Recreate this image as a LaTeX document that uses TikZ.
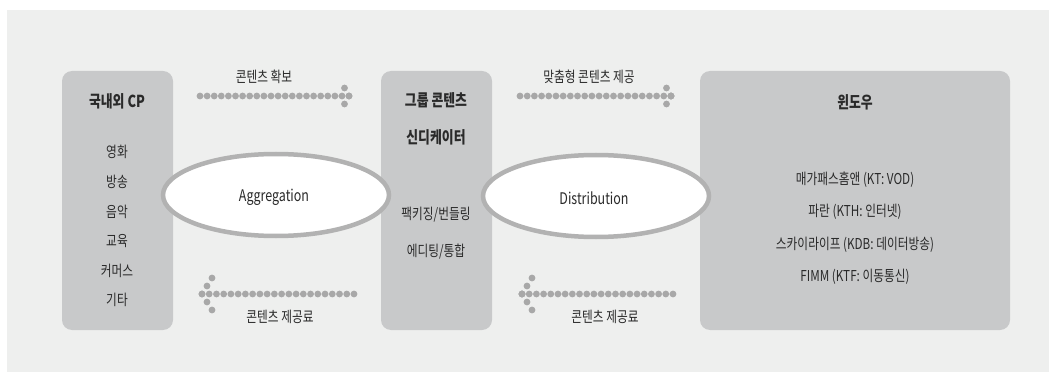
\documentclass[tikz,border=0pt]{standalone}
\usepackage{fontspec}
\setmainfont{Noto Sans CJK KR}[FakeStretch=0.78]
\definecolor{panel}{HTML}{EEEFEE}
\definecolor{boxc}{HTML}{C8C9CA}
\definecolor{dotc}{HTML}{A8A8A8}
\definecolor{ringc}{HTML}{B2B2B2}
\definecolor{txt}{HTML}{2A2A2A}
\tikzset{
  box/.style={draw=none, fill=boxc, rounded corners=10pt, inner sep=0pt},
  lbl/.style={text=txt, font=\fontsize{15}{17}\selectfont, inner sep=0pt, anchor=center},
  elbl/.style={text=txt, font=\fontsize{16}{18}\selectfont, inner sep=0pt, anchor=center},
  ttl/.style={text=txt, font=\fontsize{16.5}{18}\selectfont\bfseries, inner sep=0pt, anchor=center},
  ell/.style={draw=ringc, line width=4.5pt, fill=white, ellipse, inner sep=0pt},
  dots/.style={draw=dotc, line width=6.8pt, line cap=round},
}
\usetikzlibrary{shapes.geometric}
\begin{document}
\begin{tikzpicture}[x=1pt,y=-1pt]
\useasboundingbox (0,0) rectangle (1049,374);
\fill[panel] (7,10) rectangle (1049,372);
% boxes
\node[box, minimum width=111pt, minimum height=259pt] (cp) at (117.5,200.5) {};
\node[box, minimum width=111pt, minimum height=259pt] (syn) at (436.5,200.5) {};
\node[box, minimum width=310pt, minimum height=259pt] (win) at (855,200.5) {};
% ellipses
\node[ell, minimum width=226pt, minimum height=82pt] (agg) at (276,195) {};
\node[ell, minimum width=226pt, minimum height=82pt] (dis) at (596,196) {};
\node[elbl] (aggt) at (274,197) {Aggregation};
\node[elbl] (dist) at (594,198) {Distribution};
% left box text
\node[ttl] (cpt) at (117,101) {국내외 CP};
\node[lbl] (c1) at (117,152) {영화};
\node[lbl] (c2) at (117,182) {방송};
\node[lbl] (c3) at (117,212) {음악};
\node[lbl] (c4) at (117,241) {교육};
\node[lbl] (c5) at (117,271) {커머스};
\node[lbl] (c6) at (117,300) {기타};
% middle box text
\node[ttl] (s1) at (436,100) {그룹 콘텐츠};
\node[ttl] (s2) at (436,137) {신디케이터};
\node[lbl] (s3) at (436,215) {팩키징/번들링};
\node[lbl] (s4) at (436,252) {에디팅/통합};
% right box text
\node[ttl] (w0) at (855,102) {윈도우};
\node[lbl] (w1) at (855,180) {매가패스홈앤 (KT: VOD)};
\node[lbl] (w2) at (855,212) {파란 (KTH: 인터넷)};
\node[lbl] (w3) at (855,245) {스카이라이프 (KDB: 데이터방송)};
\node[lbl] (w4) at (855,277) {FIMM (KTF: 이동통신)};
% arrow labels
\node[lbl] (l1) at (264,77) {콘텐츠 확보};
\node[lbl] (l2) at (589,77) {맞춤형 콘텐츠 제공};
\node[lbl] (l3) at (280,317) {콘텐츠 제공료};
\node[lbl] (l4) at (605,317) {콘텐츠 제공료};
% arrow 1 (top left)
\coordinate (a1s) at (200,96);
\coordinate (a1t) at (349,96);
\coordinate (a1u) at (340,80);
\coordinate (a1d) at (340,112);
\draw[dots, dash pattern=on 0pt off 7.1pt] (a1s) -- (a1t);
\draw[dots, dash pattern=on 0pt off 9.18pt] (a1t) -- (a1u);
\draw[dots, dash pattern=on 0pt off 9.18pt] (a1t) -- (a1d);
% arrow 2 (top right)
\coordinate (a2s) at (520,96);
\coordinate (a2t) at (671,96);
\coordinate (a2u) at (662,80);
\coordinate (a2d) at (662,112);
\draw[dots, dash pattern=on 0pt off 7.19pt] (a2s) -- (a2t);
\draw[dots, dash pattern=on 0pt off 9.18pt] (a2t) -- (a2u);
\draw[dots, dash pattern=on 0pt off 9.18pt] (a2t) -- (a2d);
% arrow 3 (bottom left)
\coordinate (a3s) at (354,294);
\coordinate (a3t) at (202,294);
\coordinate (a3u) at (212,278);
\coordinate (a3d) at (212,310);
\draw[dots, dash pattern=on 0pt off 7.24pt] (a3s) -- (a3t);
\draw[dots, dash pattern=on 0pt off 9.43pt] (a3t) -- (a3u);
\draw[dots, dash pattern=on 0pt off 9.43pt] (a3t) -- (a3d);
% arrow 4 (bottom right)
\coordinate (a4s) at (673,294);
\coordinate (a4t) at (522,294);
\coordinate (a4u) at (532,278);
\coordinate (a4d) at (532,310);
\draw[dots, dash pattern=on 0pt off 7.19pt] (a4s) -- (a4t);
\draw[dots, dash pattern=on 0pt off 9.43pt] (a4t) -- (a4u);
\draw[dots, dash pattern=on 0pt off 9.43pt] (a4t) -- (a4d);
\end{tikzpicture}
\end{document}
